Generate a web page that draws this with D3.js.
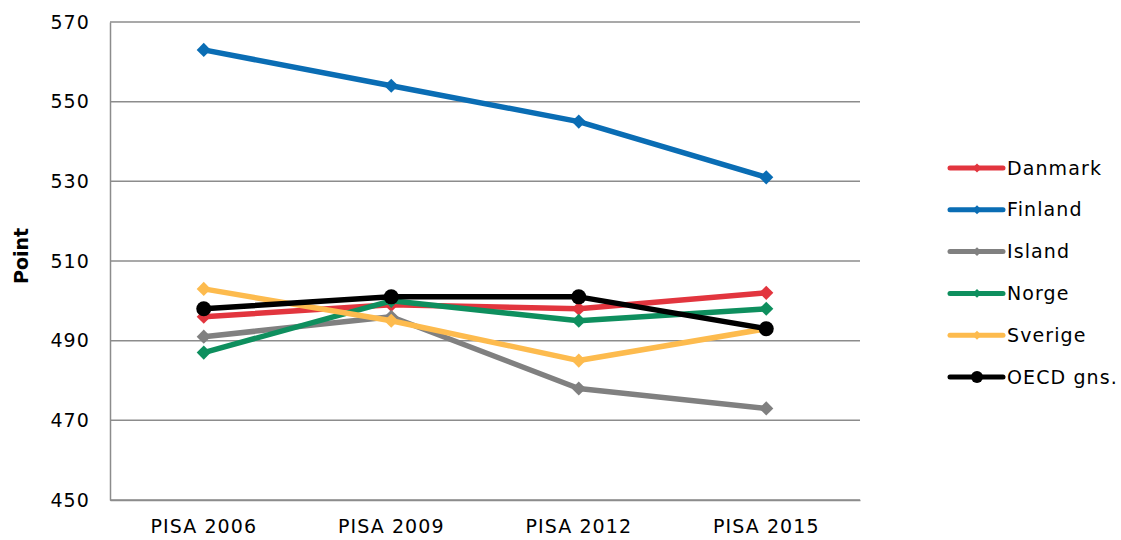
<!DOCTYPE html>
<html>
<head>
<meta charset="utf-8">
<script src="https://cdn.jsdelivr.net/npm/d3@7"></script>
<style>
  body { margin: 0; background: #fff; }
  text { font-family: "DejaVu Sans", Verdana, sans-serif; }
</style>
</head>
<body>
<div id="chart"></div>
<script>
// categories and series
let categories = ["PISA 2006", "PISA 2009", "PISA 2012", "PISA 2015"];
let seriesNames = ["Danmark", "Finland", "Island", "Norge", "Sverige", "OECD gns."];
let danmark = [496, 499, 498, 502];
let finland = [563, 554, 545, 531];
let island = [491, 496, 478, 473];
let norge = [487, 500, 495, 498];
let sverige = [503, 495, 485, 493];
let oecd = [498, 501, 501, 493];
let yTicks = [450, 470, 490, 510, 530, 550, 570];
let colors = ["#e2353e", "#0a6db4", "#808080", "#0e8f5e", "#fdbb4e", "#000000"];

let seriesValues = [danmark, finland, island, norge, sverige, oecd];

let width = 1121;
let height = 540;
let margin = { left: 110, right: 261, top: 22, bottom: 40 };
let fontSize = 19;
let spacing = 1.1;

let svg = d3.select("#chart")
    .append("svg")
    .attr("width", width)
    .attr("height", height);

let xScale = d3.scaleBand()
    .domain(categories)
    .range([margin.left, width - margin.right]);

let yScale = d3.scaleLinear()
    .domain([450, 570])
    .range([height - margin.bottom, margin.top]);

// gridlines
svg.append("g")
    .selectAll("line")
    .data(yTicks)
    .enter()
    .append("line")
    .attr("x1", margin.left)
    .attr("x2", width - margin.right)
    .attr("y1", d => yScale(d))
    .attr("y2", d => yScale(d))
    .attr("stroke", "#8c8c8c")
    .attr("stroke-width", 1.5);

// y axis
let yAxis = d3.axisLeft(yScale).tickValues(yTicks).tickSize(0).tickPadding(20);
let gy = svg.append("g")
    .attr("transform", `translate(${margin.left}, 0)`)
    .call(yAxis);
gy.select(".domain").attr("stroke", "#8c8c8c").attr("stroke-width", 1.5);
gy.selectAll("text").attr("font-size", fontSize).attr("fill", "#000")
    .attr("letter-spacing", spacing)
    .style("font-family", "'DejaVu Sans', Verdana, sans-serif");

// x axis
let xAxis = d3.axisBottom(xScale).tickSize(0).tickPadding(20);
let gx = svg.append("g")
    .attr("transform", `translate(0, ${height - margin.bottom})`)
    .call(xAxis);
gx.select(".domain").attr("stroke", "#8c8c8c").attr("stroke-width", 1.5);
gx.selectAll("text").attr("font-size", fontSize).attr("fill", "#000")
    .attr("letter-spacing", spacing)
    .style("font-family", "'DejaVu Sans', Verdana, sans-serif");

// y axis title
svg.append("text")
    .attr("transform", "translate(28, 256) rotate(-90)")
    .attr("text-anchor", "middle")
    .attr("font-size", fontSize)
    .attr("font-weight", "bold")
    .text("Point");

let cx = d => xScale(d) + xScale.bandwidth() / 2;

let line = d3.line()
    .x((d, i) => cx(categories[i]))
    .y(d => yScale(d));

// series
seriesValues.forEach((vals, s) => {
    let g = svg.append("g");
    g.append("path")
        .datum(vals)
        .attr("d", line)
        .attr("fill", "none")
        .attr("stroke", colors[s])
        .attr("stroke-width", 5.5)
        .attr("stroke-linejoin", "round");
    if (s === 5) {
        g.selectAll("circle")
            .data(vals)
            .enter()
            .append("circle")
            .attr("cx", (d, i) => cx(categories[i]))
            .attr("cy", d => yScale(d))
            .attr("r", 7.5)
            .attr("fill", colors[s]);
    } else {
        g.selectAll("path.m")
            .data(vals)
            .enter()
            .append("path")
            .attr("class", "m")
            .attr("d", d3.symbol().type(d3.symbolSquare).size(100))
            .attr("transform", (d, i) => `translate(${cx(categories[i])}, ${yScale(d)}) rotate(45)`)
            .attr("fill", colors[s]);
    }
});

// legend
let legend = svg.append("g").attr("transform", "translate(948, 168)");
seriesNames.forEach((name, s) => {
    let row = legend.append("g").attr("transform", `translate(0, ${s * 41.8})`);
    row.append("line")
        .attr("x1", 2).attr("x2", 55)
        .attr("stroke", colors[s])
        .attr("stroke-width", 5)
        .attr("stroke-linecap", "round");
    if (s === 5) {
        row.append("circle").attr("cx", 29).attr("r", 6).attr("fill", colors[s]);
    } else {
        row.append("path")
            .attr("d", d3.symbol().type(d3.symbolSquare).size(40))
            .attr("transform", "translate(29, 0) rotate(45)")
            .attr("fill", colors[s]);
    }
    row.append("text")
        .attr("x", 59)
        .attr("dy", "0.35em")
        .attr("font-size", fontSize)
        .attr("letter-spacing", spacing)
        .text(name);
});
</script>
</body>
</html>
